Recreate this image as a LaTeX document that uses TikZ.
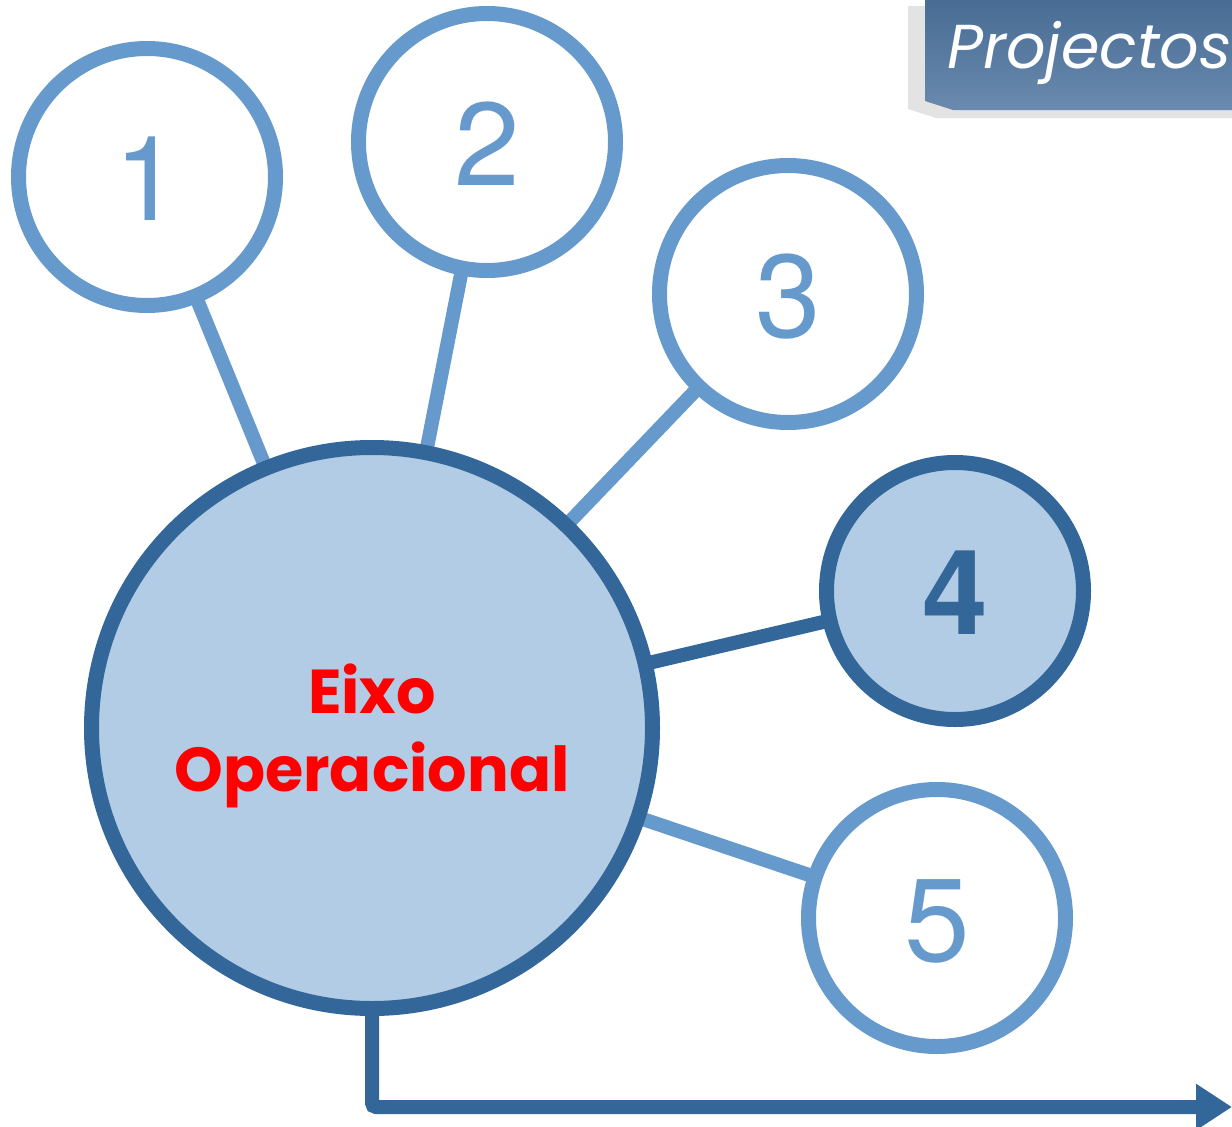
\documentclass[tikz,border=0pt]{standalone}
\usepackage{fontspec}
\setmainfont{TeX Gyre Heros}
\newfontfamily\geofont{Poppins}
\usetikzlibrary{arrows.meta,backgrounds}

\definecolor{lightring}{RGB}{102,153,204}
\definecolor{darkring}{RGB}{51,102,153}
\definecolor{hubfill}{RGB}{179,204,230}
\definecolor{projtop}{RGB}{72,108,148}
\definecolor{projbot}{RGB}{106,138,174}

\begin{document}
\begin{tikzpicture}[x=1pt, y=-1pt]
\tikzset{
  ring/.style ={circle, draw=lightring, line width=15pt, fill=white, minimum size=257pt,
                inner sep=0pt, text=lightring, text height=86pt, text depth=0pt,
                font=\fontsize{118}{118}\selectfont},
  ringB/.style={ring, draw=darkring, fill=hubfill, text=darkring,
                font=\fontsize{118}{118}\selectfont\bfseries},
  hub/.style  ={circle, draw=darkring, line width=15pt, fill=hubfill, minimum size=561pt,
                align=center, text=red, text depth=0pt,
                font=\geofont\bfseries\fontsize{62}{78}\selectfont},
  aL/.style={line width=14pt, draw=lightring},
  aD/.style={line width=14pt, draw=darkring}
}
\useasboundingbox (0,0) rectangle (1232,1127);
% title tab
\fill[gray!22] (908,6) -- (1232,6) -- (1232,118) -- (936,118) -- (908,109) -- cycle;
\shade[top color=projtop, bottom color=projbot]
  (925,0) -- (1232,0) -- (1232,110) -- (953,110) -- (925,101) -- cycle;
\node (proj)[anchor=base west, text=white, inner sep=0pt,
  font=\geofont\itshape\fontsize{62}{62}\selectfont] at (947,68) {Projectos};
% circles
\node (hub)[hub] at (372,728) {Eixo\\Operacional};
\node (n1)[ring] at (147,177) {1};
\node (n2)[ring] at (487,142) {2};
\node (n3)[ring] at (788,294) {3};
\node (n4)[ringB] at (955,591) {4};
\node (n5)[ring] at (937,918) {5};
\coordinate (end) at (1232,1107);
\begin{scope}[on background layer]
\draw[aL](n1.center)--(hub.center); \draw[aL](n2.center)--(hub.center);
\draw[aL](n3.center)--(hub.center); \draw[aD](n4.center)--(hub.center);
\draw[aL](n5.center)--(hub.center);
\draw[aD, rounded corners=4pt, -{Triangle[width=44pt,length=36pt]}](hub.center) |- (end);
\end{scope}
\end{tikzpicture}
\end{document}
